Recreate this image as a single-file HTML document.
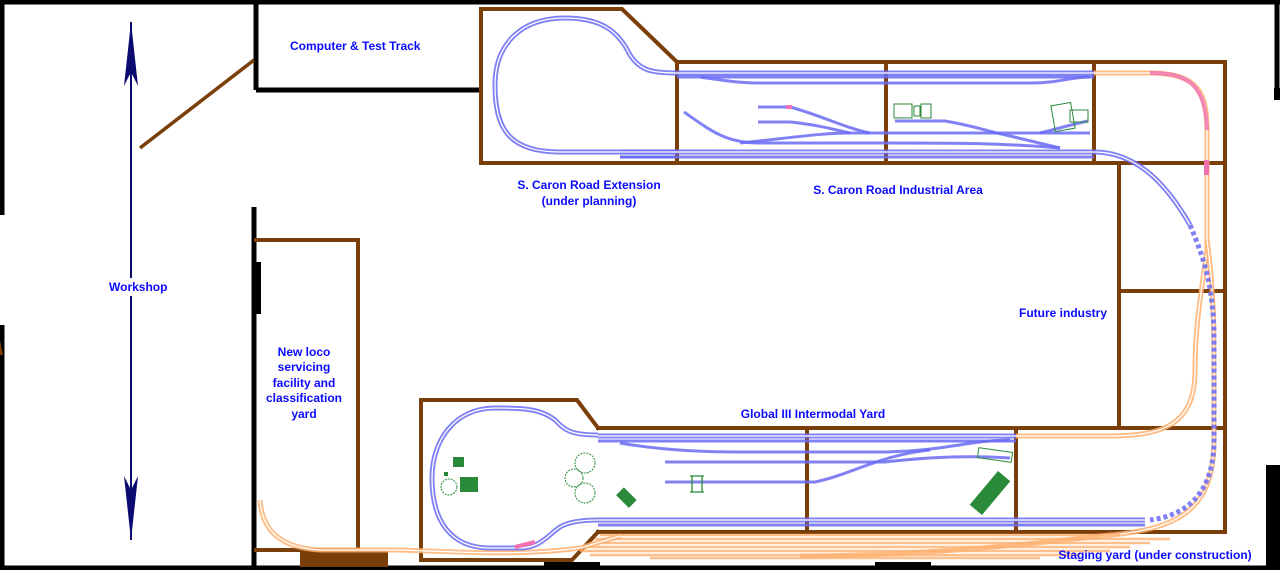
<!DOCTYPE html>
<html><head><meta charset="utf-8"><style>
html,body{margin:0;padding:0;background:#fff;}
svg{display:block}
text{font-family:"Liberation Sans",Arial,sans-serif;font-weight:bold;fill:#0a0aff;font-size:12px}
.w{stroke:#000;stroke-width:5;fill:none}
.b{stroke:#7a3e08;stroke-width:4;fill:none;stroke-linecap:square}
.t{stroke:#6b6bf5;stroke-width:5;fill:none;opacity:.85}
.ti{stroke:#fff;stroke-width:1.3;fill:none}
.s{stroke:#6b6bf5;stroke-width:3;fill:none;opacity:.85}
.o{stroke:#ffb070;stroke-width:5;fill:none;opacity:.85}
.oi{stroke:#fff;stroke-width:1.3;fill:none}
.os{stroke:#ffb070;stroke-width:2.5;fill:none;opacity:.8}
.d{stroke:#6b6bf5;stroke-width:5;fill:none;stroke-dasharray:4 3;opacity:.85}
</style></head><body>
<svg width="1280" height="570" viewBox="0 0 1280 570">
<line x1="0" y1="2" x2="1280" y2="2" class="w"/>
<line x1="0" y1="568" x2="1280" y2="568" class="w"/>
<line x1="2" y1="0" x2="2" y2="215" class="w"/>
<line x1="2" y1="325" x2="2" y2="570" class="w"/>
<path d="M0,340 L3,355 L0,355Z" fill="#7a3e08"/>
<line x1="1277" y1="0" x2="1277" y2="88" class="w"/>
<rect x="1266" y="465" width="14" height="105" fill="#000"/>
<rect x="1274" y="88" width="6" height="12" fill="#000"/>
<line x1="256" y1="0" x2="256" y2="90" class="w"/>
<line x1="256" y1="90" x2="482" y2="90" class="w"/>
<line x1="140" y1="148" x2="254" y2="60" stroke="#7a3e08" stroke-width="3.5"/>
<line x1="254" y1="207" x2="254" y2="570" class="w"/>
<rect x="253" y="262" width="8" height="52" fill="#000"/>
<rect x="300" y="550" width="88" height="17" fill="#7a3e08"/>
<rect x="544" y="562" width="56" height="8" fill="#000"/>
<rect x="875" y="562" width="56" height="8" fill="#000"/>
<line x1="131" y1="22" x2="131" y2="540" stroke="#0a0a70" stroke-width="2"/>
<path d="M131,22 L138,86 L131,72 L124,86Z" fill="#0a0a70"/>
<path d="M131,540 L138,476 L131,490 L124,476Z" fill="#0a0a70"/>
<rect x="108" y="278" width="64" height="18" fill="#fff"/>
<path class="b" d="M256,240 L358,240 L358,550 L256,550"/>
<path class="b" d="M481,9 L622,9 L677,62 L677,163 L481,163 Z"/>
<path class="b" d="M677,62 L1225,62 L1225,532"/>
<path class="b" d="M677,163 L1119,163"/>
<path class="b" d="M1094,163 L1225,163"/>
<line class="b" x1="886" y1="62" x2="886" y2="163"/>
<line class="b" x1="1094" y1="62" x2="1094" y2="163"/>
<line class="b" x1="1119" y1="163" x2="1119" y2="428"/>
<line class="b" x1="1119" y1="291" x2="1225" y2="291"/>
<line class="b" x1="598" y1="428" x2="1225" y2="428"/>
<line class="b" x1="598" y1="532" x2="1225" y2="532"/>
<line class="b" x1="807" y1="428" x2="807" y2="532"/>
<line class="b" x1="1016" y1="428" x2="1016" y2="532"/>
<path class="b" d="M598,532 L572,560 L421,560 L421,400 L577,400 L598,428"/>
<g>
<path class="o" d="M1094,73 L1150,73 C1200,73 1207,95 1207,130 L1207,250 C1200,300 1195,330 1195,370 C1195,420 1170,436 1110,436 L1016,436"/>
<path class="oi" d="M1094,73 L1150,73 C1200,73 1207,95 1207,130 L1207,250 C1200,300 1195,330 1195,370 C1195,420 1170,436 1110,436 L1016,436"/>
<path class="o" d="M1207,240 C1214,290 1214,330 1214,370 L1214,440 C1214,510 1180,530 1100,536"/>
<path class="oi" d="M1207,240 C1214,290 1214,330 1214,370 L1214,440 C1214,510 1180,530 1100,536"/>
<path d="M1150,73 C1190,73 1205,85 1207,130" stroke="#f070b0" stroke-width="4" fill="none" opacity=".8"/>
<rect x="1204" y="160" width="5" height="15" fill="#f070b0"/>
<path class="os" d="M600,535 L1120,535 M595,539 L1170,539 M590,543 L1150,543 M585,547 L1130,547 M580,551 L1110,551 M590,555 L1080,555 M650,558 L1040,558"/>
<path class="o" d="M260,500 C262,530 280,548 320,550 L400,550 C460,552 520,556 580,548 L620,536"/>
<path class="oi" d="M260,500 C262,530 280,548 320,550 L400,550 C460,552 520,556 580,548 L620,536"/>
<path class="o" d="M1100,536 C1000,548 900,556 800,556" />
</g>
<path class="d" d="M1190,225 C1205,260 1214,290 1214,340 L1214,440 C1214,490 1190,515 1150,520"/>
<path class="t" d="M677,73 C650,73 640,70 630,55 C618,30 600,18 565,18 C520,18 495,45 495,85 C495,130 510,152 560,152 L677,152"/>
<path class="ti" d="M677,73 C650,73 640,70 630,55 C618,30 600,18 565,18 C520,18 495,45 495,85 C495,130 510,152 560,152 L677,152"/>
<path class="s" d="M677,157 L620,157"/>
<path class="t" d="M677,73 L1094,73"/><path class="ti" d="M677,73 L1094,73"/>
<path class="s" d="M677,77 L1094,77"/>
<path class="s" d="M700,77 C720,80 740,83 757,83 L1030,83 C1060,83 1070,77 1090,77"/>
<path class="t" d="M620,152 L1094,152 C1140,152 1170,190 1190,225"/>
<path class="ti" d="M620,152 L1094,152 C1140,152 1170,190 1190,225"/>
<path class="s" d="M620,157 L1094,157"/>
<path class="s" d="M684,112 C710,130 725,143 760,143 L886,143 C960,143 1000,143 1060,148"/>
<path class="s" d="M740,143 C790,138 820,133 850,133 L1090,133"/>
<path class="s" d="M758,107 L790,107 C820,115 845,128 870,133"/>
<path class="s" d="M758,122 L790,122 C820,125 835,130 850,133"/>
<path class="s" d="M895,121 L945,121 C975,126 990,132 1010,136 L1060,148"/>
<path class="s" d="M1040,133 C1060,128 1070,125 1088,121"/>
<rect x="786" y="105" width="6" height="4" fill="#f070b0"/>
<path class="t" d="M598,435 C570,435 565,430 555,420 C540,408 520,408 495,408 C455,408 432,440 432,478 C432,520 450,548 490,548 L520,548 C540,548 548,535 560,527 C570,521 585,520 598,520 L1145,520"/>
<path class="ti" d="M598,435 C570,435 565,430 555,420 C540,408 520,408 495,408 C455,408 432,440 432,478 C432,520 450,548 490,548 L520,548 C540,548 548,535 560,527 C570,521 585,520 598,520 L1145,520"/>
<path d="M515,547 L535,542" stroke="#f070b0" stroke-width="4"/>
<path class="t" d="M598,436 L1016,436"/><path class="ti" d="M598,436 L1016,436"/>
<path class="s" d="M598,441 L1016,441"/>
<path class="s" d="M620,443 C660,450 700,452 740,452 L880,452 C940,452 970,440 1010,440"/>
<path class="s" d="M665,462 L885,462 C920,458 960,455 1010,458"/>
<path class="s" d="M665,482 L815,482 C850,475 880,455 930,450"/>
<path class="s" d="M598,525 L1145,525"/>
<path d="M690,476 L704,476 M690,492 L704,492 M692,476 L692,492 M702,476 L702,492" stroke="#2a8a3a" stroke-width="1.3"/>
<rect x="978" y="450" width="34" height="10" fill="none" stroke="#2a8a3a" transform="rotate(8 995 455)"/>
<rect x="453" y="457" width="11" height="10" fill="#2a8a3a"/>
<rect x="460" y="477" width="18" height="15" fill="#2a8a3a"/>
<rect x="444" y="472" width="4" height="4" fill="#2a8a3a"/>
<circle cx="449" cy="487" r="8" fill="none" stroke="#2a8a3a" stroke-dasharray="2 1"/>
<circle cx="585" cy="463" r="10" fill="none" stroke="#2a8a3a" stroke-dasharray="2 1"/>
<circle cx="574" cy="478" r="9" fill="none" stroke="#2a8a3a" stroke-dasharray="2 1"/>
<circle cx="585" cy="493" r="10" fill="none" stroke="#2a8a3a" stroke-dasharray="2 1"/>
<rect x="617" y="492" width="18" height="11" fill="#2a8a3a" transform="rotate(45 626 498)"/>
<rect x="968" y="485" width="44" height="16" fill="#2a8a3a" transform="rotate(-50 990 493)"/>
<rect x="894" y="104" width="18" height="14" fill="none" stroke="#2a8a3a"/>
<rect x="914" y="106" width="6" height="10" fill="none" stroke="#2a8a3a"/>
<rect x="921" y="104" width="10" height="14" fill="none" stroke="#2a8a3a"/>
<rect x="1053" y="104" width="20" height="26" fill="none" stroke="#2a8a3a" transform="rotate(-10 1063 117)"/>
<rect x="1070" y="110" width="18" height="12" fill="none" stroke="#2a8a3a"/>
<text x="290" y="50">Computer &amp; Test Track</text>
<text x="109" y="291">Workshop</text>
<text x="589" y="189" text-anchor="middle">S. Caron Road Extension</text>
<text x="589" y="205" text-anchor="middle">(under planning)</text>
<text x="898" y="194" text-anchor="middle">S. Caron Road Industrial Area</text>
<text x="1063" y="317" text-anchor="middle">Future industry</text>
<text x="813" y="418" text-anchor="middle">Global III Intermodal Yard</text>
<text x="1155" y="559" text-anchor="middle">Staging yard (under construction)</text>
<text x="304" y="356" text-anchor="middle">New loco</text>
<text x="304" y="371" text-anchor="middle">servicing</text>
<text x="304" y="387" text-anchor="middle">facility and</text>
<text x="304" y="402" text-anchor="middle">classification</text>
<text x="304" y="418" text-anchor="middle">yard</text>
</svg>
</body></html>
